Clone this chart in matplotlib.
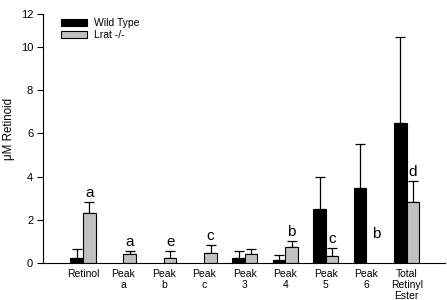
import matplotlib.pyplot as plt
import numpy as np

plt.rcParams["font.family"] = ["Liberation Sans", "DejaVu Sans"]

nan = np.nan
categories = ["Retinol", "Peak\na", "Peak\nb", "Peak\nc", "Peak\n3",
              "Peak\n4", "Peak\n5", "Peak\n6", "Total\nRetinyl\nEster"]
wild_mean = [0.24, nan, nan, nan, 0.27, 0.16, 2.50, 3.50, 6.47]
wild_err = [0.42, nan, nan, nan, 0.31, 0.23, 1.50, 2.00, 3.97]
lrat_mean = [2.34, 0.44, 0.27, 0.47, 0.44, 0.75, 0.33, nan, 2.85]
lrat_err = [0.51, 0.15, 0.32, 0.40, 0.23, 0.30, 0.40, nan, 0.96]
letters = ["a", "a", "e", "c", "", "b", "c", "b", "d"]
ytick_vals = [0, 2, 4, 6, 8, 10, 11.5]
ytick_labels = ["0", "2", "4", "6", "8", "10", "12"]

x = np.arange(len(categories))
w = 0.31

fig = plt.figure(figsize=(4.47, 3.0), dpi=100)
ax = fig.add_axes([0.096, 0.122, 0.899, 0.831])

wm = np.array(wild_mean)
lm = np.array(lrat_mean)
ax.bar(x - w / 2, wm, w, color="black", edgecolor="black", linewidth=0.8,
       label="Wild Type", zorder=2)
ax.bar(x + w / 2, lm, w, color="#c0c0c0", edgecolor="black", linewidth=0.8,
       label="Lrat -/-", zorder=2)

# one-sided (upper) error bars, drawn behind the bars
err_kw = dict(fmt="none", ecolor="black", elinewidth=0.9, capsize=3.5,
              capthick=0.9, zorder=1)
ax.errorbar(x - w / 2, wm, yerr=[np.zeros_like(wm), wild_err], **err_kw)
ax.errorbar(x + w / 2, lm, yerr=[np.zeros_like(lm), lrat_err], **err_kw)

for i, let in enumerate(letters):
    if not let:
        continue
    top = lm[i] + lrat_err[i]
    if np.isnan(top):
        ax.text(x[i] + w / 2 + 0.1, 1.15, let, ha="center", va="baseline",
                fontsize=11)
    else:
        ax.annotate(let, (x[i] + w / 2, top), xytext=(0, 3.5),
                    textcoords="offset points", ha="center", va="baseline",
                    fontsize=11)

ax.set_xlim(-0.99, 8.94)
ax.set_ylim(0, 11.5)
ax.set_yticks(ytick_vals)
ax.set_yticklabels(ytick_labels)
ax.set_xticks(x)
ax.set_xticklabels(categories, fontsize=7.5, linespacing=1.15)
ax.tick_params(axis="x", length=0, pad=4)
ax.tick_params(axis="y", direction="out", length=4, width=0.8, labelsize=8, pad=3)
ax.set_ylabel("\u03bcM Retinoid", fontsize=8.3)
ax.yaxis.set_label_coords(-0.07, 0.54)

for s in ["top", "right"]:
    ax.spines[s].set_visible(False)
for s in ["left", "bottom"]:
    ax.spines[s].set_linewidth(0.8)

ax.legend(loc="upper left", bbox_to_anchor=(0.035, 1.0), frameon=False,
          fontsize=7.5, handlelength=2.5, handleheight=0.7, handletextpad=0.7,
          labelspacing=0.2, borderaxespad=0)

fig.savefig("out.png", dpi=100)
